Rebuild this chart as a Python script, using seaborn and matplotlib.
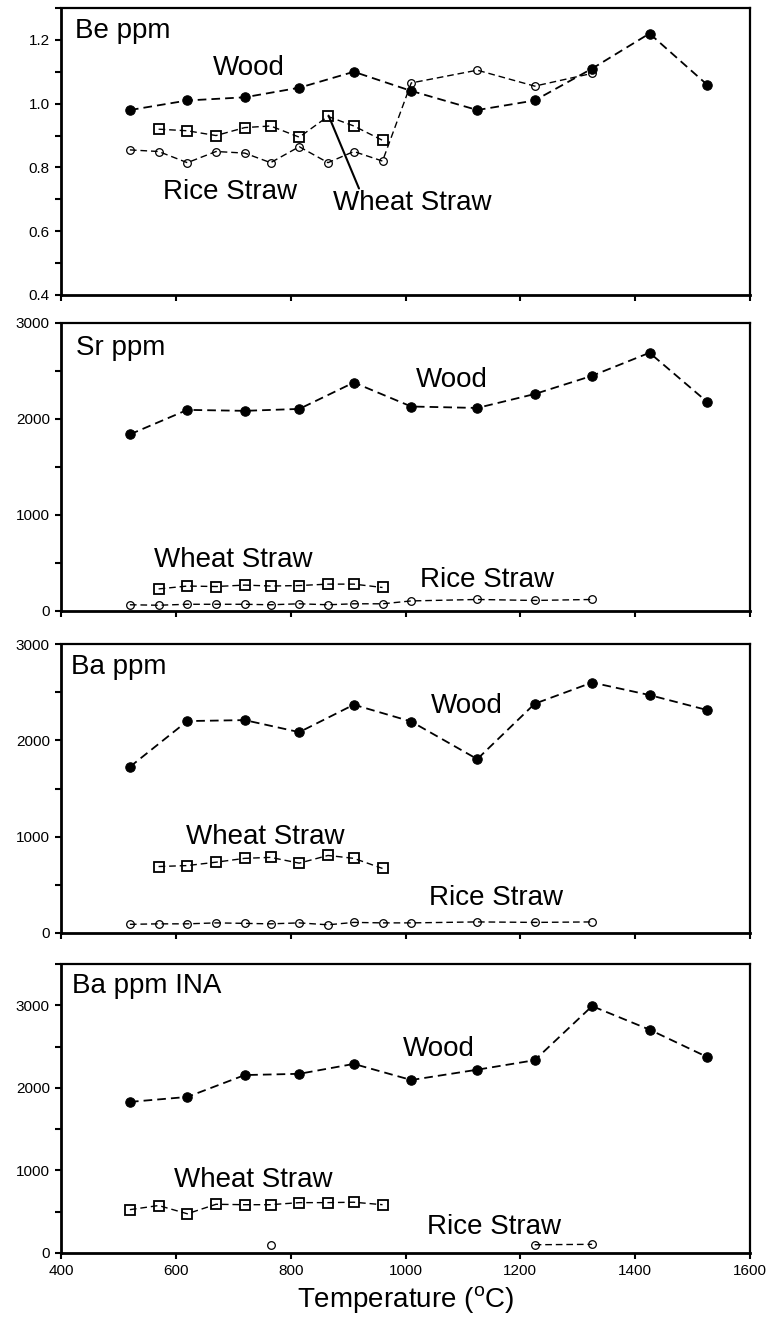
import matplotlib
matplotlib.use("Agg")
import matplotlib.pyplot as plt
from matplotlib.ticker import MultipleLocator, FixedLocator, FormatStrFormatter
import seaborn as sns
import pandas as pd

# ---------------- data ----------------
temps_wood = [520, 620, 720, 815, 910, 1010, 1125, 1225, 1325, 1425, 1525]
temps_rice = [520, 570, 620, 670, 720, 765, 815, 865, 910, 960, 1010, 1125, 1225, 1325]
temps_wheat = [570, 620, 670, 720, 765, 815, 865, 910, 960]
temps_wheat_ina = [520, 570, 620, 670, 720, 765, 815, 865, 910, 960]
temps_rice_ina_a = [765]
temps_rice_ina_b = [1225, 1325]

be_wood = [0.98, 1.01, 1.02, 1.05, 1.10, 1.04, 0.98, 1.01, 1.11, 1.22, 1.06]
be_rice = [0.855, 0.85, 0.815, 0.85, 0.845, 0.815, 0.865, 0.815, 0.85, 0.82, 1.065, 1.105, 1.055, 1.095]
be_wheat = [0.92, 0.915, 0.90, 0.925, 0.93, 0.895, 0.96, 0.93, 0.885]

sr_wood = [1840, 2095, 2085, 2105, 2380, 2130, 2115, 2260, 2450, 2690, 2180]
sr_rice = [65, 60, 70, 70, 70, 65, 75, 65, 75, 75, 105, 120, 110, 120]
sr_wheat = [230, 260, 255, 270, 260, 265, 280, 280, 245]

ba_wood = [1725, 2200, 2210, 2085, 2370, 2195, 1805, 2380, 2600, 2470, 2315]
ba_rice = [90, 95, 95, 105, 100, 95, 105, 85, 110, 105, 105, 115, 110, 115]
ba_wheat = [690, 700, 735, 775, 785, 725, 805, 775, 670]

ina_wood = [1830, 1890, 2155, 2170, 2290, 2095, 2220, 2335, 2990, 2705, 2375]
ina_wheat = [525, 575, 475, 590, 585, 585, 610, 610, 615, 585]
ina_rice_a = [100]
ina_rice_b = [100, 105]

panel_titles = ["Be ppm", "Sr ppm", "Ba ppm", "Ba ppm INA"]
x_ticks = [400, 600, 800, 1000, 1200, 1400, 1600]

# ---------------- style ----------------
sns.set_style("ticks")
plt.rcParams["font.family"] = ["Liberation Sans", "DejaVu Sans"]
plt.rcParams["mathtext.fontset"] = "custom"
plt.rcParams["mathtext.rm"] = "Liberation Sans"
plt.rcParams["text.color"] = "black"
plt.rcParams["axes.labelcolor"] = "black"
plt.rcParams["xtick.color"] = "black"
plt.rcParams["ytick.color"] = "black"

fig = plt.figure(figsize=(7.69, 13.21), dpi=100)
W, H = 769.0, 1321.0
left_px, right_px = 61, 750
panels_px = [(8, 295), (323, 611), (644, 933), (964, 1253)]
axes = []
for top, bot in panels_px:
    ax = fig.add_axes([left_px / W, 1 - bot / H, (right_px - left_px) / W, (bot - top) / H])
    axes.append(ax)

DASH = (0, (4.8, 2.8))


def draw(ax, x, y, kind):
    df = pd.DataFrame({"T": x, "v": y})
    if kind == "wood":
        kw = dict(marker="o", markersize=6.8, markerfacecolor="black",
                  markeredgecolor="black", linewidth=1.3)
    elif kind == "rice":
        kw = dict(marker="o", markersize=5.5, markerfacecolor="none",
                  markeredgecolor="black", markeredgewidth=0.9, linewidth=1.0)
    else:
        kw = dict(marker="s", markersize=6.5, markerfacecolor="none",
                  markeredgecolor="black", markeredgewidth=1.3, linewidth=1.0)
    sns.lineplot(data=df, x="T", y="v", ax=ax, color="black", linestyle=DASH,
                 errorbar=None, sort=False, **kw)


# panel 1: Be
ax = axes[0]
draw(ax, temps_wood, be_wood, "wood")
draw(ax, temps_wheat, be_wheat, "wheat")
draw(ax, temps_rice, be_rice, "rice")
ax.set_ylim(0.4, 1.3)
ax.yaxis.set_major_locator(FixedLocator([0.4, 0.6, 0.8, 1.0, 1.2]))
ax.yaxis.set_minor_locator(FixedLocator([0.5, 0.7, 0.9, 1.1, 1.3]))
ax.yaxis.set_major_formatter(FormatStrFormatter("%.1f"))
ax.plot([866, 919], [0.9625, 0.734], color="black", linewidth=1.5)
ax.text(665, 1.112, "Wood", fontsize=20, va="center", ha="left")
ax.text(578, 0.722, "Rice Straw", fontsize=20, va="center", ha="left")
ax.text(873, 0.69, "Wheat Straw", fontsize=20, va="center", ha="left")
ax.text(424, 1.228, panel_titles[0], fontsize=20, va="center", ha="left")

# panel 2: Sr
ax = axes[1]
draw(ax, temps_wood, sr_wood, "wood")
draw(ax, temps_wheat, sr_wheat, "wheat")
draw(ax, temps_rice, sr_rice, "rice")
ax.set_ylim(0, 3000)
ax.text(426, 2740, panel_titles[1], fontsize=20, va="center", ha="left")
ax.text(1018, 2406, "Wood", fontsize=20, va="center", ha="left")
ax.text(562, 531, "Wheat Straw", fontsize=20, va="center", ha="left")
ax.text(1025, 323, "Rice Straw", fontsize=20, va="center", ha="left")

# panel 3: Ba
ax = axes[2]
draw(ax, temps_wood, ba_wood, "wood")
draw(ax, temps_wheat, ba_wheat, "wheat")
draw(ax, temps_rice, ba_rice, "rice")
ax.set_ylim(0, 3000)
ax.text(417, 2761, panel_titles[2], fontsize=20, va="center", ha="left")
ax.text(1045, 2356, "Wood", fontsize=20, va="center", ha="left")
ax.text(617, 996, "Wheat Straw", fontsize=20, va="center", ha="left")
ax.text(1041, 363, "Rice Straw", fontsize=20, va="center", ha="left")

# panel 4: Ba INA
ax = axes[3]
draw(ax, temps_wood, ina_wood, "wood")
draw(ax, temps_wheat_ina, ina_wheat, "wheat")
draw(ax, temps_rice_ina_a, ina_rice_a, "rice")
draw(ax, temps_rice_ina_b, ina_rice_b, "rice")
ax.set_ylim(0, 3500)
ax.text(419, 3232, panel_titles[3], fontsize=20, va="center", ha="left")
ax.text(996, 2466, "Wood", fontsize=20, va="center", ha="left")
ax.text(596, 887, "Wheat Straw", fontsize=20, va="center", ha="left")
ax.text(1038, 317, "Rice Straw", fontsize=20, va="center", ha="left")

for i, ax in enumerate(axes):
    ax.set_xlim(400, 1600)
    ax.xaxis.set_major_locator(FixedLocator(x_ticks))
    if i > 0:
        ax.yaxis.set_major_locator(MultipleLocator(1000))
        ax.yaxis.set_minor_locator(MultipleLocator(500))
    for sp in ax.spines.values():
        sp.set_visible(True)
        sp.set_color("black")
        sp.set_linewidth(2.0)
    ax.spines["right"].set_linewidth(1.6)
    ax.spines["top"].set_linewidth(1.6)
    ax.tick_params(which="both", direction="out", length=4, width=1.5,
                   color="black", labelsize=11, labelcolor="black", pad=4)
    ax.set_xlabel("")
    ax.set_ylabel("")
    ax.grid(False)
    if i < 3:
        ax.tick_params(axis="x", labelbottom=False)

axes[3].set_xlabel(r"Temperature ($\mathregular{^{o}}$C)", fontsize=20,
                   labelpad=4, color="black")

fig.savefig("out.png", dpi=100)
